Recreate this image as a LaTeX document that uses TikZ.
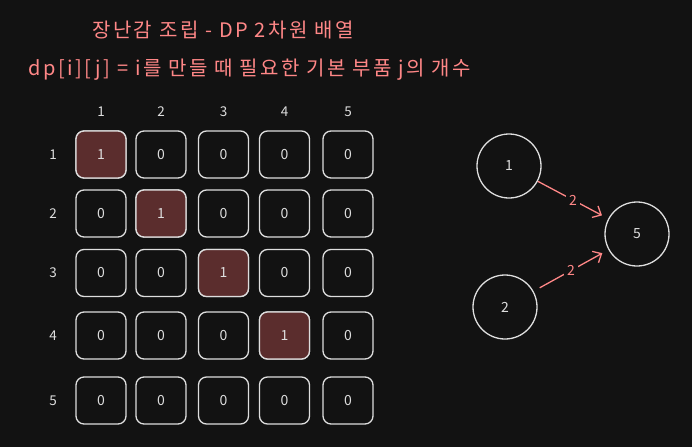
\documentclass[tikz,border=0pt]{standalone}
\usepackage{fontspec}
\setmainfont{Noto Sans CJK KR}
\newfontfamily\headfont[LetterSpace=12]{Noto Sans CJK KR}
\usetikzlibrary{arrows.meta}
\definecolor{bg}{HTML}{121212}
\definecolor{ink}{HTML}{DEDEDE}
\definecolor{pinkink}{HTML}{FF8787}
\definecolor{cellfill}{HTML}{5B2D2D}
\begin{document}
\begin{tikzpicture}[x=1pt,y=-1pt,
  cellbox/.style={draw=ink, line width=1.3pt, rounded corners=8pt, minimum width=50pt, minimum height=47pt, inner sep=0pt, text=ink, font=\fontsize{14}{14}\selectfont},
  hotbox/.style={cellbox, fill=cellfill},
  axislab/.style={text=ink, font=\fontsize{13.5}{13.5}\selectfont, inner sep=1pt},
  heading/.style={text=pinkink, font=\headfont\fontsize{20}{20}\selectfont, inner sep=0pt},
  circ/.style={circle, draw=ink, line width=1.3pt, minimum size=64pt, inner sep=0pt, text=ink, font=\fontsize{14}{14}\selectfont},
  arr/.style={draw=pinkink, line width=1.3pt, -{Straight Barb[length=7pt,width=13pt,line width=1.3pt]}},
  arrlab/.style={fill=bg, text=pinkink, inner sep=3pt, font=\fontsize{14}{14}\selectfont}
]
\fill[bg] (0,0) rectangle (692,447);
\useasboundingbox (0,0) rectangle (692,447);

\node[heading] (title) at (223,30) {장난감 조립 - DP 2차원 배열};
\node[heading] (def) at (250,70) {dp[i][j] = i를 만들 때 필요한 기본 부품 j의 개수};

% column headers and row labels
\foreach \j/\x in {1/101,2/161,3/223.5,4/284.5,5/348}{
  \node[axislab] (col\j) at (\x,112) {\j};
}
\foreach \i/\y in {1/154.5,2/213.5,3/273,4/335.5,5/400.5}{
  \node[axislab] (row\i) at (53,\y) {\i};
}
% cells
\foreach \i/\y in {1/154.5,2/213.5,3/273,4/335.5,5/400.5}{
  \foreach \j/\x in {1/101,2/161,3/223.5,4/284.5,5/348}{
    \node[cellbox] (c\i\j) at (\x,\y) {0};
  }
}
\node[hotbox] at (c11) {1};
\node[hotbox] at (c22) {1};
\node[hotbox] at (c33) {1};
\node[hotbox] at (c44) {1};

% graph
\node[circ] (n1) at (509,166) {1};
\node[circ] (n2) at (505,307) {2};
\node[circ] (n5) at (637,234) {5};
\draw[arr, shorten >=7pt] (n1) -- node[arrlab] (l1) {2} (n5);
\draw[arr, shorten <=7pt, shorten >=7pt] (n2) -- node[arrlab] (l2) {2} (n5);
\end{tikzpicture}
\end{document}
